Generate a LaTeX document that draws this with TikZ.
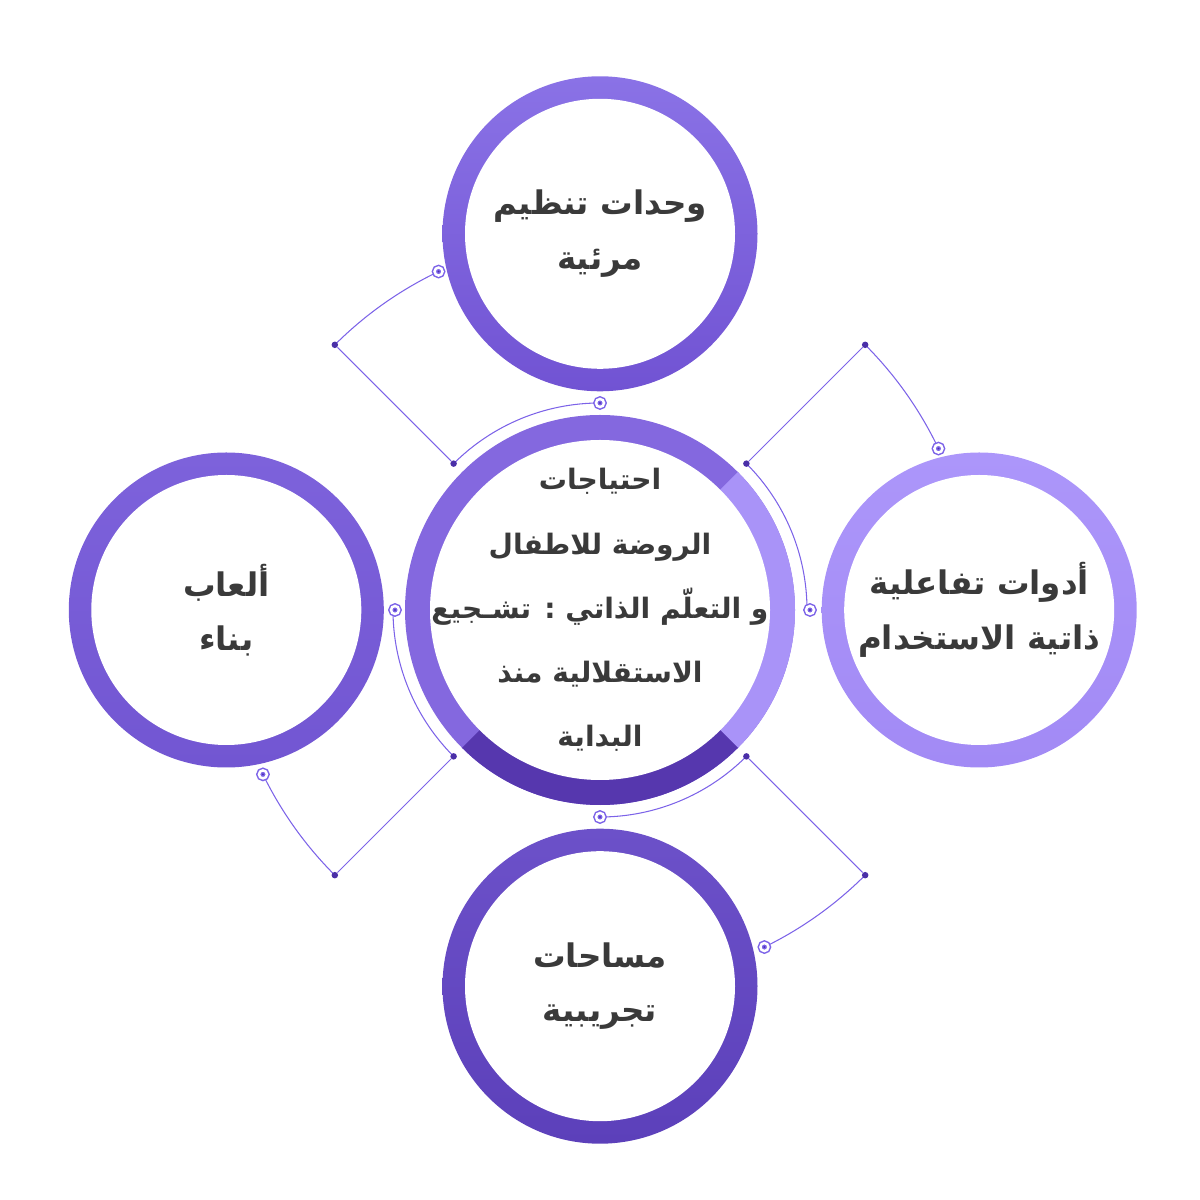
\documentclass[tikz,border=0pt]{standalone}
\usepackage{fontspec}
\TeXXeTstate=1
\newfontfamily\arabicfont[Script=Arabic]{DejaVu Sans}
\usepackage{tikz}
\usetikzlibrary{positioning,backgrounds}
\definecolor{ink}{HTML}{3A3A3A}
\definecolor{wire}{HTML}{7C63E8}
\definecolor{pin}{HTML}{4A2FA8}
\definecolor{hubA}{HTML}{8468DF}
\definecolor{hubB}{HTML}{A993F8}
\definecolor{hubC}{HTML}{5637AE}
\definecolor{topA}{HTML}{8A72E6}
\definecolor{topB}{HTML}{7153D3}
\definecolor{leftA}{HTML}{7D62DB}
\definecolor{leftB}{HTML}{7256D2}
\definecolor{rightA}{HTML}{AC96FA}
\definecolor{rightB}{HTML}{A28AF5}
\definecolor{botA}{HTML}{6C51C9}
\definecolor{botB}{HTML}{5C40BA}
\tikzset{
  ring/.style={circle,inner sep=0pt,minimum size=6.3cm,align=center,text=ink,
    font=\arabicfont\bfseries\fontsize{18.5}{31}\selectfont,
    path picture={\fill[white] (path picture bounding box.center) circle (2.7cm);}},
  hub/.style={circle,inner sep=0pt,minimum size=7.8cm,fill=hubA,
    path picture={
      \fill[hubB] (path picture bounding box.center) -- ++(45:4cm) arc[start angle=45,end angle=-45,radius=4cm] -- cycle;
      \fill[hubC] (path picture bounding box.center) -- ++(-45:4cm) arc[start angle=-45,end angle=-135,radius=4cm] -- cycle;
      \fill[white] (path picture bounding box.center) circle (3.4cm);}},
  hubtext/.style={align=center,text=ink,font=\arabicfont\bfseries\fontsize{16}{36.5}\selectfont},
  wire/.style={draw=wire,line width=0.6pt},
  dot/.style={circle,fill=pin,inner sep=0pt,minimum size=1.3mm},
  pinmark/.style={circle,draw=wire,double=white,double distance=0.5mm,line width=0.3mm,fill=pin,
    inner sep=0pt,minimum size=1.6mm},
}
\begin{document}
\begin{tikzpicture}
\useasboundingbox (-12,-11.8) rectangle (12,12.2);

\node[hub,label={[hubtext]center:{\beginR احتياجات\endR\\\beginR الروضة للاطفال\endR\\\beginR و التعلّم الذاتي : تشـجيع\endR\\\beginR الاستقلالية منذ\endR\\\beginR البداية\endR}}] (hub) at (0,0) {};

\node[ring,top color=topA,bottom color=topB,above=4.6mm of hub] (units) {\beginR وحدات تنظيم\endR\\\beginR مرئية\endR};
\node[ring,top color=rightA,bottom color=rightB,right=5.2mm of hub] (tools) {\beginR أدوات تفاعلية\endR\\\beginR ذاتية الاستخدام\endR};
\node[ring,top color=leftA,bottom color=leftB,left=4.1mm of hub] (games) {\beginR ألعاب\endR\\\beginR بناء\endR};
\node[ring,top color=botA,bottom color=botB,below=4.6mm of hub] (spaces) {\beginR مساحات\endR\\\beginR تجريبية\endR};

% top-left
\node[dot] (tlin) at (135:4.14) {};
\node[pinmark] (tlhub) at (90:4.14) {};
\node[dot] (tlout) at (135:7.5) {};
\node[pinmark] (tlend) at (115.5:7.5) {};
% top-right
\node[dot] (trin) at (45:4.14) {};
\node[pinmark] (trhub) at (0:4.2) {};
\node[dot] (trout) at (45:7.5) {};
\node[pinmark] (trend) at (25.5:7.5) {};
% bottom-right
\node[dot] (brin) at (-45:4.14) {};
\node[pinmark] (brhub) at (-90:4.14) {};
\node[dot] (brout) at (-45:7.5) {};
\node[pinmark] (brend) at (-64:7.5) {};
% bottom-left
\node[dot] (blin) at (225:4.14) {};
\node[pinmark] (blhub) at (180:4.1) {};
\node[dot] (blout) at (225:7.5) {};
\node[pinmark] (blend) at (206:7.5) {};

\begin{scope}[on background layer]
\draw[wire] (tlin.center) arc[start angle=135,end angle=90,radius=4.14cm];
\draw[wire] (tlin) -- (tlout);
\draw[wire] (tlout.center) arc[start angle=135,end angle=115.5,radius=7.5cm];

\draw[wire] (trin.center) arc[start angle=45,end angle=0,radius=4.14cm] -- (trhub);
\draw[wire] (trin) -- (trout);
\draw[wire] (trout.center) arc[start angle=45,end angle=25.5,radius=7.5cm];

\draw[wire] (brin.center) arc[start angle=-45,end angle=-90,radius=4.14cm];
\draw[wire] (brin) -- (brout);
\draw[wire] (brout.center) arc[start angle=-45,end angle=-64,radius=7.5cm];

\draw[wire] (blin.center) arc[start angle=225,end angle=180,radius=4.14cm] -- (blhub);
\draw[wire] (blin) -- (blout);
\draw[wire] (blout.center) arc[start angle=225,end angle=206,radius=7.5cm];
\end{scope}
\end{tikzpicture}
\end{document}
